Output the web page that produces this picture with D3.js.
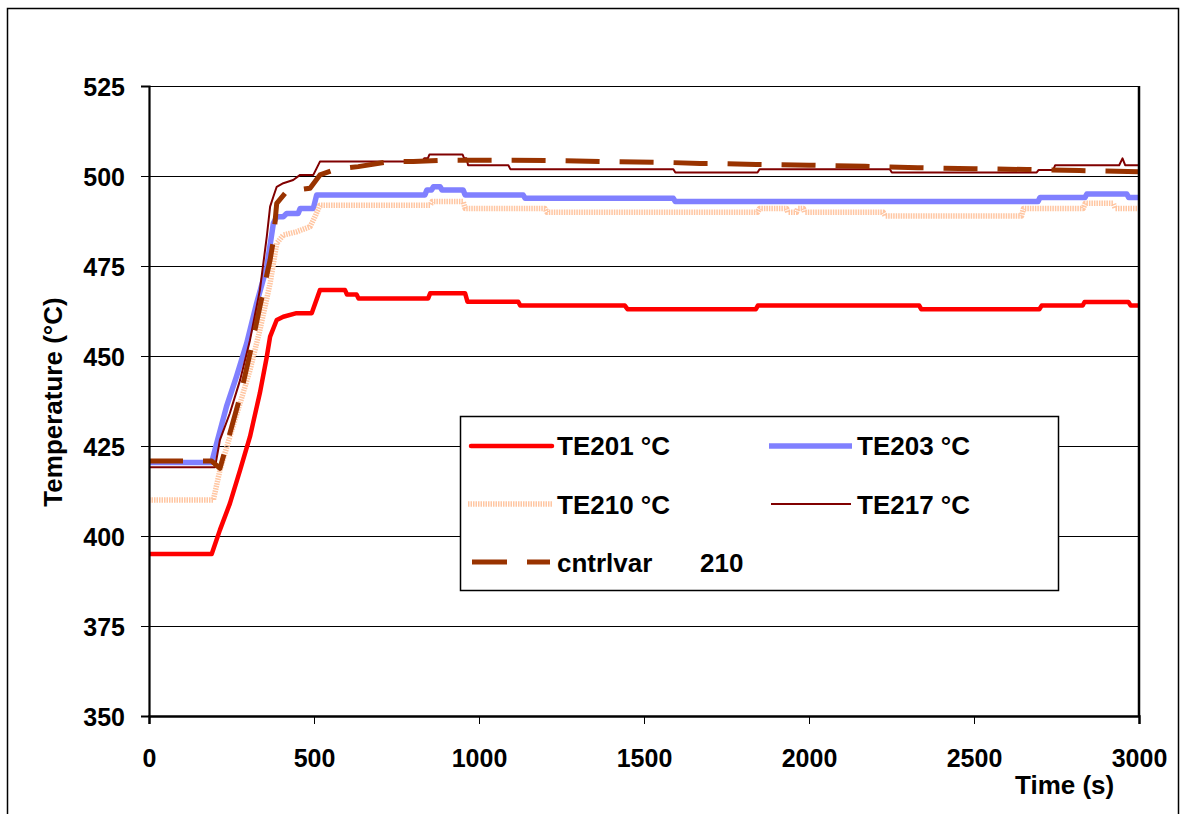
<!DOCTYPE html>
<html><head><meta charset="utf-8">
<script src="https://cdn.jsdelivr.net/npm/d3@7"></script>
<style>
body{margin:0;background:#fff}
svg{display:block}
text{font-family:"Liberation Sans",Arial,sans-serif;font-weight:bold;fill:#000}
</style>
</head><body>
<svg id="chart" width="1181" height="814"></svg>
<script>
// ---------- data ----------
const seriesNames = ["TE201 °C", "TE203 °C", "TE210 °C", "TE217 °C", "cntrlvar"];
const xTicks = [0, 500, 1000, 1500, 2000, 2500, 3000];
const yTicks = [350, 375, 400, 425, 450, 475, 500, 525];

const te201Time = [0,190,215,245,276,306,336,357,367,387,407,447,493,518,594,600,629,635,846,852,958,965,1119,1125,1442,1450,1839,1845,2334,2340,2698,2705,2829,2835,2968,2975,3000];
const te201Temp = [395,395,401.7,409,418.3,427.6,439.7,449.8,455.4,460,460.9,461.9,461.9,468.3,468.3,467.1,467.1,466,466,467.4,467.4,465.1,465.1,464,464,463,463,464,464,463,463,464,464,465,465,464,464];

const te203Time = [0,190,205,235,265,296,326,357,377,387,407,417,452,458,498,508,836,842,856,862,882,888,952,958,1134,1140,1589,1595,2694,2700,2836,2842,2963,2969,3000];
const te203Temp = [420.4,420.4,425.7,436,444.3,453.5,464.6,474.8,486.9,488.7,488.7,489.6,489.6,491,491,494.7,494.7,496.1,496.1,497,497,496.1,496.1,494.7,494.7,493.8,493.8,492.9,492.9,494,494,495,495,494,494];

const te210Time = [0,195,215,245,276,306,336,367,387,407,447,488,503,518,852,858,952,958,1200,1206,1844,1850,1932,1936,1962,1966,1983,1987,2225,2231,2644,2650,2831,2837,2922,2928,3000];
const te210Temp = [410,410,418.3,427.6,436.9,446.1,457.2,470.2,481.3,483.6,484.5,485.9,488.7,491.9,491.9,492.9,492.9,491,491,489.9,489.9,491,491,489.9,489.9,491,491,489.9,489.9,488.9,488.9,491,491,492.4,492.4,491,491];

const te217Time = [0,200,215,245,276,306,336,357,367,377,387,407,437,458,498,518,828,834,845,850,950,955,962,967,1089,1095,1589,1595,1844,1850,2245,2251,2690,2696,2740,2746,2940,2950,2958,3000];
const te217Temp = [419.1,419.1,426.7,434.1,443.3,454.4,468.3,483.2,491.5,494.3,497,498,498.9,500.3,500.3,504,504,504.9,504.9,506,506,504.9,504.9,503,503,501.9,501.9,501,501,501.9,501.9,501,501,501.7,501.7,503,503,504.9,503,503];

const ctrlTime = [0,190,215,245,276,306,336,367,377,387,417,488,518,568,634,730,801,897,1063,1225,1397,1558,1670,1725,1840,2000,2170,2330,2500,2660,2820,3000];
const ctrlTemp = [420.8,420.8,418.8,428.5,438.7,450.7,463.7,476.7,482.2,492.4,495.7,496.6,500.3,501.9,502.6,504,504,504.4,504.4,504.3,504,503.8,503.5,503.5,503.2,503,502.7,502.3,502,501.8,501.5,501.2];

// ---------- styles ----------
const styles = [
  {color:"#FF0000", width:4.5, dash:null},
  {color:"#8080FF", width:5.5, dash:null},
  {color:"#FFC6A2", width:5.5, dash:"1.5,1"},
  {color:"#800000", width:2, dash:null},
  {color:"#993300", width:5, dash:"34,20"}
];
const seriesData = [
  d3.zip(te201Time, te201Temp),
  d3.zip(te203Time, te203Temp),
  d3.zip(te210Time, te210Temp),
  d3.zip(te217Time, te217Temp),
  d3.zip(ctrlTime, ctrlTemp)
];

const svg = d3.select("#chart");
const L = 149, R = 1139, T = 86, B = 716;
const x = d3.scaleLinear().domain([0, 3000]).range([L, R]);
const y = d3.scaleLinear().domain([350, 525]).range([B, T]);

// outer frame
svg.append("rect").attr("x", 7.5).attr("y", 8.5).attr("width", 1171).attr("height", 900)
  .attr("fill", "none").attr("stroke", "#000").attr("stroke-width", 1.5);

// gridlines
svg.append("g").selectAll("line").data(yTicks.filter(v => v > 350)).join("line")
  .attr("x1", L).attr("x2", R).attr("y1", d => Math.round(y(d)) + 0.5).attr("y2", d => Math.round(y(d)) + 0.5)
  .attr("stroke", "#000").attr("stroke-width", 1);

// series lines
const line = d3.line().x(d => x(d[0])).y(d => y(d[1]));
const clipId = "plotclip";
svg.append("clipPath").attr("id", clipId).append("rect").attr("x", L).attr("y", T - 10).attr("width", R - L).attr("height", B - T + 10);
svg.append("g").attr("clip-path", `url(#${clipId})`).selectAll("path").data(seriesData).join("path")
  .attr("d", line)
  .attr("fill", "none")
  .attr("stroke", (d, i) => styles[i].color)
  .attr("stroke-width", (d, i) => styles[i].width)
  .attr("stroke-dasharray", (d, i) => styles[i].dash)
  .attr("stroke-linejoin", "round");

// plot area borders
svg.append("line").attr("x1", R).attr("x2", R).attr("y1", T).attr("y2", B).attr("stroke", "#000").attr("stroke-width", 2.5);

// axes
const yAxis = d3.axisLeft(y).tickValues(yTicks).tickSize(8).tickPadding(16).tickFormat(d3.format("d"));
const gy = svg.append("g").attr("transform", `translate(${L},0)`).call(yAxis);
gy.select(".domain").attr("stroke-width", 2.2);
gy.selectAll(".tick line").attr("stroke-width", 1);
gy.selectAll("text").attr("font-size", 25).attr("dy", "0.38em").style("font-family", '"Liberation Sans",Arial,sans-serif').style("font-weight", "bold");

const xAxis = d3.axisBottom(x).tickValues(xTicks).tickSize(8).tickPadding(25).tickFormat(d3.format("d"));
const gx = svg.append("g").attr("transform", `translate(0,${B})`).call(xAxis);
gx.select(".domain").attr("stroke-width", 2.5);
gx.selectAll(".tick line").attr("stroke-width", 1);
gx.selectAll("text").attr("font-size", 25).style("font-family", '"Liberation Sans",Arial,sans-serif').style("font-weight", "bold");
svg.selectAll(".domain").attr("stroke", "#000");

// top border line
svg.append("line").attr("x1", L).attr("x2", R).attr("y1", T + 0.5).attr("y2", T + 0.5).attr("stroke", "#000").attr("stroke-width", 1);

// axis titles
svg.append("text").attr("transform", "translate(62,402) rotate(-90)").attr("text-anchor", "middle")
  .attr("font-size", 26).text("Temperature (°C)");
svg.append("text").attr("x", 1015).attr("y", 794).attr("font-size", 26).text("Time (s)");

// legend
const lg = svg.append("g");
lg.append("rect").attr("x", 460.5).attr("y", 416.5).attr("width", 598).attr("height", 174)
  .attr("fill", "#fff").attr("stroke", "#000").attr("stroke-width", 1.5);
const legPos = [
  {x1:471, x2:552, y:446, tx:557, ty:455},
  {x1:769, x2:852, y:446, tx:857, ty:455},
  {x1:468, x2:552, y:504, tx:557, ty:514},
  {x1:771, x2:851, y:504, tx:857, ty:514},
  {x1:472, x2:550, y:562, tx:557, ty:572}
];
seriesNames.forEach((name, i) => {
  const p = legPos[i], s = styles[i];
  lg.append("line").attr("x1", p.x1).attr("x2", p.x2).attr("y1", p.y).attr("y2", p.y)
    .attr("stroke", s.color).attr("stroke-width", s.width)
    .attr("stroke-dasharray", i === 4 ? "35,20" : s.dash)
    .attr("stroke-linecap", i === 0 ? "round" : "butt");
  lg.append("text").attr("x", p.tx).attr("y", p.ty).attr("font-size", 26).text(name);
});
lg.append("text").attr("x", 700).attr("y", 572).attr("font-size", 26).text("210");
</script>
</body></html>
